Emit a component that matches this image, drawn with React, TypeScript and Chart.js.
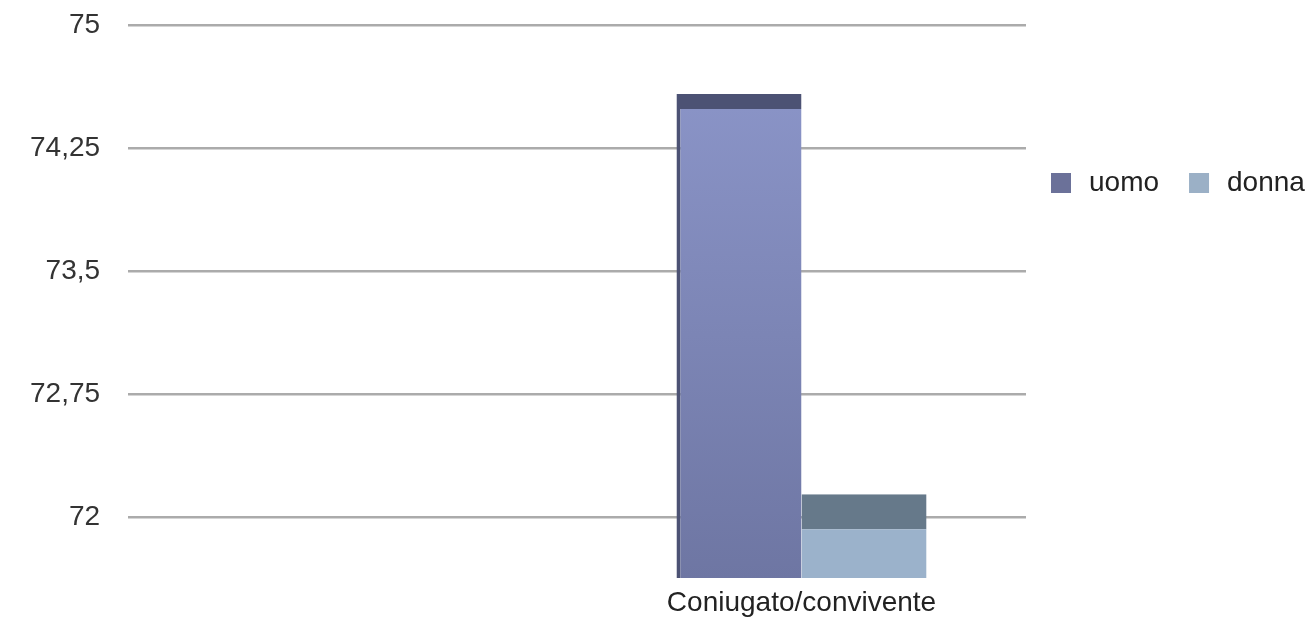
import React, { useEffect, useRef } from "react";
import { Chart, registerables } from "chart.js";

Chart.register(...registerables);

const categories = ["", "Coniugato/convivente"];
const seriesNames = ["uomo", "donna"];
const uomoValues: (number | null)[] = [null, 74.58];
const donnaValues: (number | null)[] = [null, 72.14];
const yTicks = [72, 72.75, 73.5, 74.25, 75];
const yMin = 71.63;
const yMax = 75;

const FONT = "'Liberation Sans', Arial, sans-serif";
const legendColors = ["#6b7199", "#9bb0c6"];

const legendPlugin = {
  id: "sideLegend",
  afterDraw(chart: any) {
    const { ctx, chartArea } = chart;
    ctx.save();
    ctx.font = `28px ${FONT}`;
    ctx.textBaseline = "middle";
    let x = chartArea.right + 25;
    const cy = chartArea.top + 158;
    seriesNames.forEach((name, i) => {
      ctx.fillStyle = legendColors[i];
      ctx.fillRect(x, cy - 10, 20, 20);
      ctx.fillStyle = "#222";
      ctx.fillText(name, x + 38, cy);
      x += 38 + ctx.measureText(name).width + 30;
    });
    ctx.restore();
  },
};

function grad(ctx: any, top: string, bottom: string) {
  const chart = ctx.chart;
  const area = chart.chartArea;
  if (!area) return top;
  const g = chart.ctx.createLinearGradient(0, area.top, 0, area.bottom);
  g.addColorStop(0, top);
  g.addColorStop(1, bottom);
  return g;
}

export default function App() {
  const ref = useRef<HTMLCanvasElement | null>(null);
  useEffect(() => {
    document.body.style.margin = "0";
    const chart = new Chart(ref.current as HTMLCanvasElement, {
      type: "bar",
      data: {
        labels: categories,
        datasets: [
          {
            label: seriesNames[0],
            data: uomoValues,
            backgroundColor: (c: any) => grad(c, "#8e98cc", "#6e76a3"),
            borderColor: "#4c5274",
            borderWidth: { top: 15, left: 4, right: 0, bottom: 0 },
            borderSkipped: false,
            barPercentage: 1,
            categoryPercentage: 0.557,
          },
          {
            label: seriesNames[1],
            data: donnaValues,
            backgroundColor: "#9bb2cb",
            borderColor: "#66798a",
            borderWidth: { top: 35, left: 0, right: 0, bottom: 0 },
            borderSkipped: false,
            barPercentage: 1,
            categoryPercentage: 0.557,
          },
        ],
      },
      options: {
        animation: false,
        responsive: true,
        maintainAspectRatio: false,
        layout: { padding: { left: 2, right: 284, top: 0, bottom: 0 } },
        plugins: {
          legend: { display: false },
          tooltip: { enabled: false },
        },
        scales: {
          x: {
            grid: { display: false, drawTicks: false },
            border: { display: false },
            afterFit: (scale: any) => {
              scale.height = 39;
            },
            ticks: {
              font: { family: FONT, size: 28 },
              color: "#222",
              padding: 8,
            },
          },
          y: {
            min: yMin,
            max: yMax,
            afterBuildTicks: (scale: any) => {
              scale.ticks = yTicks.map((v) => ({ value: v }));
            },
            afterFit: (scale: any) => {
              scale.paddingTop = 25;
              scale.paddingBottom = 0;
            },
            grid: { color: "#ababab", lineWidth: 2.5, drawTicks: false },
            border: { display: false },
            ticks: {
              font: { family: FONT, size: 28 },
              color: "#333",
              padding: 28,
              callback: (v: any) => String(v).replace(".", ","),
            },
          },
        },
      },
      plugins: [legendPlugin],
    });
    return () => chart.destroy();
  }, []);
  return (
    <div style={{ width: 1310, height: 617, position: "relative" }}>
      <canvas ref={ref} />
    </div>
  );
}
